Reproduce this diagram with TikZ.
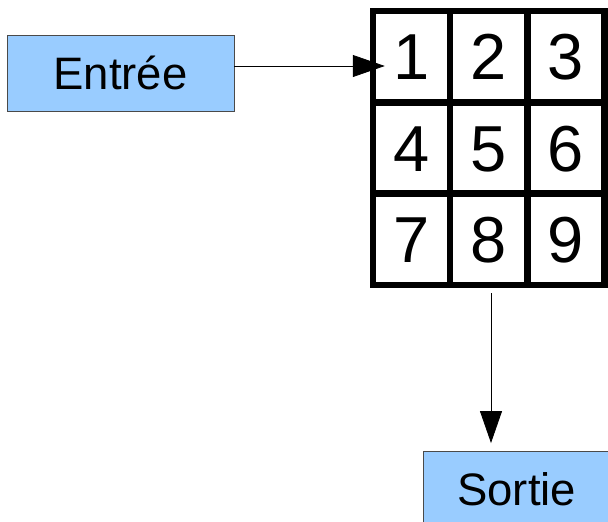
\documentclass[tikz,border=0pt]{standalone}
\usepackage{fontspec}
\setmainfont{Liberation Sans}
\usetikzlibrary{arrows.meta}
\definecolor{boxblue}{HTML}{99CCFF}
\definecolor{boxline}{HTML}{4A4A4A}
\begin{document}
\begin{tikzpicture}[x=1pt,y=-1pt,
  labelbox/.style={draw=boxline, line width=0.9pt, fill=boxblue, inner sep=0pt,
    font=\fontsize{45.5}{50}\selectfont, text height=32.6pt, text depth=0pt},
  cell/.style={draw=black, line width=6.5pt, fill=white, inner sep=0pt,
    minimum width=77.2pt, minimum height=91.33pt,
    font=\fontsize{65}{70}\selectfont, text height=46.5pt, text depth=0pt},
  arrow/.style={draw=black, line width=0.8pt, -{Triangle[length=32pt,width=22pt]}}]
\useasboundingbox (0,0) rectangle (608,522);
% input / output boxes
\node[labelbox, minimum width=227pt, minimum height=76pt] (entree) at (120.5,73) {Entrée};
\node[labelbox, minimum width=187.4pt, minimum height=76pt] (sortie) at (516.7,489) {Sortie};
% grid
\node[cell] (c1) at (411.6,56.67) {1};
\node[cell] (c2) at (488.8,56.67) {2};
\node[cell] (c3) at (566.0,56.67) {3};
\node[cell] (c4) at (411.6,148.0) {4};
\node[cell] (c5) at (488.8,148.0) {5};
\node[cell] (c6) at (566.0,148.0) {6};
\node[cell] (c7) at (411.6,239.33) {7};
\node[cell] (c8) at (488.8,239.33) {8};
\node[cell] (c9) at (566.0,239.33) {9};
% connectors
\path ([yshift=7pt]entree.east) coordinate (hs);
\path ([xshift=15pt]c1.west) coordinate (hx);
\draw[arrow] (hs) -- (hx |- hs);
\path ([xshift=2.2pt,yshift=-5pt]c8.south) coordinate (vs);
\path ([yshift=7.5pt]sortie.north) coordinate (ve);
\draw[arrow] (vs) -- (vs |- ve);
\end{tikzpicture}
\end{document}
